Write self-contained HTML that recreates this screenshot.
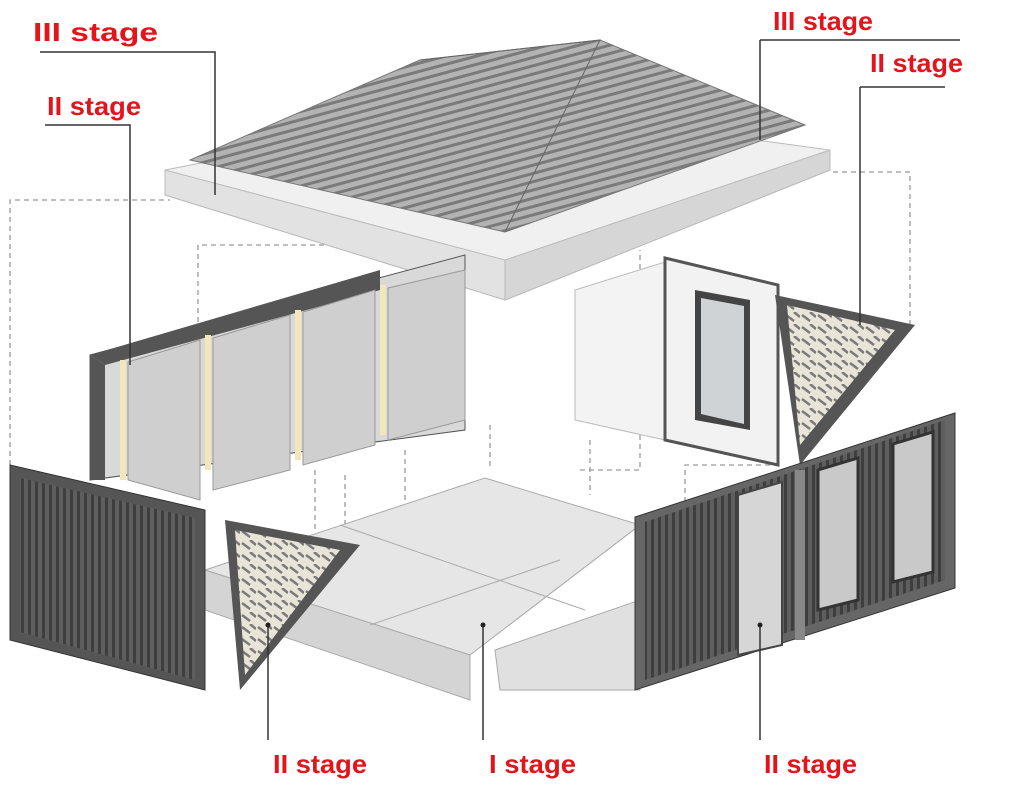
<!DOCTYPE html>
<html><head><meta charset="utf-8"><style>
html,body{margin:0;padding:0;background:#fff;width:1024px;height:800px;overflow:hidden}
svg{display:block}
.lb{font-family:"Liberation Sans",sans-serif;font-size:26px;font-weight:bold;fill:#e3141b}
</style></head><body>
<svg width="1024" height="800" viewBox="0 0 1024 800">
<defs>
<pattern id="st" width="7" height="10" patternUnits="userSpaceOnUse"><rect width="7" height="10" fill="#5e5e5e"/><rect width="3" height="10" fill="#3e3e3e"/></pattern>
<pattern id="rf" width="10" height="8" patternUnits="userSpaceOnUse" patternTransform="rotate(-15)"><rect width="10" height="8" fill="#b3b3b3"/><rect width="10" height="3" fill="#7a7a7a"/></pattern>
<pattern id="br" width="16" height="12" patternUnits="userSpaceOnUse"><rect width="16" height="12" fill="#e9e4d8"/><path d="M2 3 l8 6 M10 0 l6 5" stroke="#7a7a7a" stroke-width="2.5"/></pattern>
</defs>
<rect width="1024" height="800" fill="#fff"/>
<g stroke="#9a9a9a" stroke-dasharray="5,4" fill="none" stroke-width="1.3">
<path d="M10 465 V200 H170"/><path d="M198 430 V245 H380"/><path d="M910 325 V172 H830"/>
<path d="M505 300 V255 M580 470 H640 V250"/><path d="M315 470 V530 M345 475 V540 M405 450 V500 M490 425 V470 M590 440 V495"/>
<path d="M685 520 V465 H770"/><path d="M380 255 L505 300"/>
</g>
<polygon points="165,170 500,105 830,150 830,170 505,300 165,195" fill="#f0f0f0" stroke="#bbb"/>
<polygon points="165,195 505,300 505,260 165,170" fill="#e2e2e2" stroke="#bbb"/>
<polygon points="505,260 830,150 830,170 505,300" fill="#d6d6d6" stroke="#bbb"/>
<polygon points="190,160 420,60 600,40 805,125 505,232" fill="url(#rf)" stroke="#777"/>
<path d="M420 60 L600 40 L505 232" stroke="#666" fill="none"/>
<polygon points="90,355 465,255 465,430 90,480" fill="#d9d9d9" stroke="#555"/>
<polygon points="90,355 380,270 380,290 105,365" fill="#555"/>
<polygon points="90,355 105,365 105,480 90,480" fill="#555"/>
<g fill="#f3e6b8"><rect x="120" y="360" width="6" height="120"/><rect x="205" y="335" width="6" height="135"/><rect x="295" y="310" width="6" height="150"/><rect x="380" y="285" width="6" height="150"/></g>
<g fill="#cfcfcf" stroke="#999"><polygon points="128,362 200,340 200,500 128,480"/><polygon points="213,338 290,315 290,470 213,490"/><polygon points="303,312 375,290 375,445 303,465"/><polygon points="388,288 465,270 465,420 388,440"/></g>
<polygon points="575,290 665,262 665,440 575,420" fill="#f3f3f3" stroke="#bbb"/>
<polygon points="665,258 778,285 778,465 665,440" fill="#f2f2f2" stroke="#555" stroke-width="3"/>
<polygon points="695,290 750,300 750,430 695,420" fill="#444"/>
<polygon points="701,298 744,306 744,424 701,414" fill="#cfd3d6"/>
<polygon points="775,295 915,325 800,465" fill="#555"/>
<polygon points="787,305 895,330 800,445" fill="url(#br)"/>
<polygon points="205,570 485,478 640,525 470,655" fill="#e6e6e6" stroke="#aaa"/>
<polygon points="205,570 470,655 470,700 205,610" fill="#d4d4d4" stroke="#aaa"/>
<polygon points="495,650 640,600 640,690 500,690" fill="#e0e0e0" stroke="#aaa"/>
<path d="M340 525 L585 610 M370 625 L560 560" stroke="#aaa"/>
<polygon points="10,465 205,510 205,690 10,640" fill="#555" stroke="#333"/>
<polygon points="20,478 195,518 195,680 20,632" fill="url(#st)"/>
<polygon points="225,520 360,545 240,690" fill="#555"/>
<polygon points="235,530 340,550 245,675" fill="url(#br)"/>
<polygon points="635,517 955,413 955,588 635,690" fill="#666" stroke="#333"/>
<polygon points="645,522 945,420 945,580 645,680" fill="url(#st)"/>
<polygon points="738,495 782,482 782,645 738,655" fill="#d6d6d6" stroke="#444" stroke-width="2"/>
<polygon points="818,470 858,458 858,600 818,610" fill="#c9c9c9" stroke="#333" stroke-width="3"/>
<polygon points="893,444 933,432 933,572 893,582" fill="#c9c9c9" stroke="#333" stroke-width="3"/>
<rect x="795" y="470" width="10" height="170" fill="#888"/>
<g stroke="#333" stroke-width="1.5" fill="none">
<path d="M40 52 H215 V195"/><path d="M45 125 H130 V365"/>
<path d="M760 40 H960 M760 40 V140"/><path d="M860 87 H945 M860 87 V325"/>
<path d="M268 740 V625"/><path d="M483 740 V625"/><path d="M760 740 V625"/>
</g>
<g fill="#222"><circle cx="268" cy="625" r="2.5"/><circle cx="483" cy="625" r="2.5"/><circle cx="760" cy="625" r="2.5"/></g>
<text class="lb" x="33" y="41" textLength="125" lengthAdjust="spacingAndGlyphs">III stage</text>
<text class="lb" x="47" y="115" textLength="94" lengthAdjust="spacingAndGlyphs">II stage</text>
<text class="lb" x="773" y="30" textLength="100" lengthAdjust="spacingAndGlyphs">III stage</text>
<text class="lb" x="870" y="72" textLength="93" lengthAdjust="spacingAndGlyphs">II stage</text>
<text class="lb" x="273" y="773" textLength="94" lengthAdjust="spacingAndGlyphs">II stage</text>
<text class="lb" x="489" y="773" textLength="87" lengthAdjust="spacingAndGlyphs">I stage</text>
<text class="lb" x="764" y="773" textLength="93" lengthAdjust="spacingAndGlyphs">II stage</text>
</svg>
</body></html>
